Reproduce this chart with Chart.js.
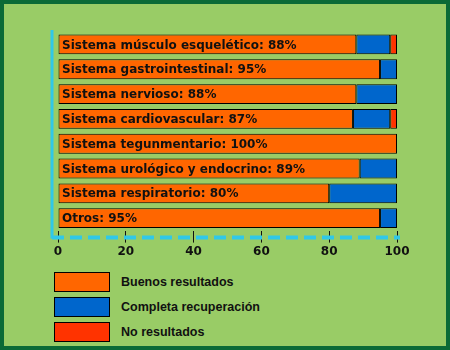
<!DOCTYPE html>
<html>
<head>
<meta charset="utf-8">
<script src="https://cdn.jsdelivr.net/npm/chart.js@4"></script>
<style>
    body { margin: 0; width: 450px; height: 350px; background: #0b6a36; position: relative; overflow: hidden; }
    .frame { position: absolute; left: 4px; top: 4px; right: 4px; bottom: 4px; background: #99cc66; }
    .chart-box { position: absolute; left: 0; top: 0; width: 450px; height: 262px; }
    .legend { position: absolute; left: 54px; top: 272px; font: bold 12.5px "Liberation Sans", sans-serif; color: #111; }
    .legend-row { display: flex; align-items: center; height: 20px; margin-bottom: 5px; }
    .legend-box { width: 54px; height: 18px; border: 1px solid #000; margin-right: 11px; }
</style>
</head>
<body>
<div class="frame"></div>
<div class="chart-box"><canvas id="resultsChart"></canvas></div>
<div class="legend" id="legend"></div>
<script>
// ================= Data =================
const categories = [
    "Sistema músculo esquelético",
    "Sistema gastrointestinal",
    "Sistema nervioso",
    "Sistema cardiovascular",
    "Sistema tegunmentario",
    "Sistema urológico y endocrino",
    "Sistema respiratorio",
    "Otros"
];
const buenos = [88, 95, 88, 87, 100, 89, 80, 95];
const completa = [10, 5, 12, 11, 0, 11, 20, 5];
const noResultados = [2, 0, 0, 2, 0, 0, 0, 0];
const seriesNames = ["Buenos resultados", "Completa recuperación", "No resultados"];
const seriesColors = ["#ff6600", "#0066cc", "#ff3300"];
const xTicks = [0, 20, 40, 60, 80, 100];

// ================= Plugins =================
// cyan axis lines (solid vertical, dashed horizontal)
const axisLines = {
    id: "axisLines",
    beforeDatasetsDraw(chart) {
        const { ctx, chartArea: a } = chart;
        ctx.save();
        ctx.strokeStyle = "#30c8e8";
        ctx.lineWidth = 3;
        ctx.beginPath();
        ctx.moveTo(a.left - 6, a.top - 2);
        ctx.lineTo(a.left - 6, a.bottom + 8);
        ctx.stroke();
        ctx.lineWidth = 4;
        ctx.setLineDash([12, 6]);
        ctx.beginPath();
        ctx.moveTo(a.left - 6, a.bottom + 7);
        ctx.lineTo(a.right + 3, a.bottom + 7);
        ctx.stroke();
        ctx.restore();
    }
};

// text inside the bars
const barText = {
    id: "barText",
    afterDatasetsDraw(chart) {
        const { ctx, chartArea: a } = chart;
        const meta = chart.getDatasetMeta(0);
        ctx.save();
        ctx.font = "bold 12px 'DejaVu Sans', sans-serif";
        ctx.fillStyle = "#111";
        ctx.textBaseline = "middle";
        meta.data.forEach((bar, i) => {
            ctx.fillText(categories[i] + ": " + buenos[i] + "%", a.left + 4, bar.y + 1);
        });
        ctx.restore();
    }
};

// ================= Chart =================
const seriesData = [buenos, completa, noResultados];

new Chart(document.getElementById("resultsChart"), {
    type: "bar",
    data: {
        labels: categories,
        datasets: seriesData.map((d, i) => ({
            label: seriesNames[i],
            data: d,
            backgroundColor: seriesColors[i],
            borderColor: "#000",
            borderWidth: 1,
            borderSkipped: false,
            barPercentage: 0.8,
            categoryPercentage: 1
        }))
    },
    options: {
        indexAxis: "y",
        responsive: true,
        maintainAspectRatio: false,
        animation: false,
        layout: {
            padding: { left: 58, right: 53, top: 32, bottom: 1 }
        },
        plugins: {
            legend: { display: false },
            tooltip: { enabled: false }
        },
        scales: {
            x: {
                stacked: true,
                min: 0,
                max: 100,
                afterBuildTicks: (scale) => {
                    scale.ticks = xTicks.map(v => ({ value: v }));
                },
                border: { display: false },
                grid: {
                    drawOnChartArea: false,
                    drawTicks: true,
                    tickLength: 12,
                    color: "#111"
                },
                ticks: {
                    color: "#111",
                    padding: 2,
                    font: { family: "DejaVu Sans", size: 12, weight: "bold" }
                }
            },
            y: {
                stacked: true,
                display: false
            }
        }
    },
    plugins: [axisLines, barText]
});

// ================= Legend =================
const legend = document.getElementById("legend");
seriesNames.forEach((name, i) => {
    const row = document.createElement("div");
    row.className = "legend-row";
    row.innerHTML = '<div class="legend-box" style="background:' + seriesColors[i] + '"></div><span>' + name + '</span>';
    legend.appendChild(row);
});
</script>
</body>
</html>
